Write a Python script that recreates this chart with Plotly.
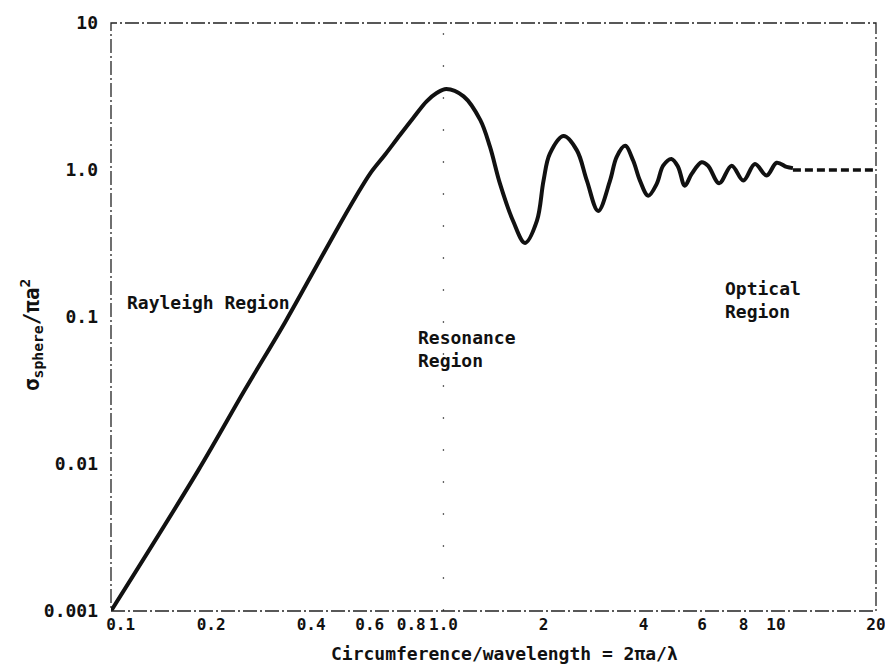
import plotly.graph_objects as go

# Normalised radar cross section of a conducting sphere vs. circumference/wavelength
circ_over_wl = [0.1, 0.183, 0.253, 0.334, 0.401, 0.488, 0.542, 0.601, 0.667, 0.740,
                0.810, 0.890, 0.954, 1.02, 1.15, 1.29, 1.38, 1.48, 1.62, 1.76,
                1.91, 2.00, 2.09, 2.30, 2.52, 2.70, 2.92, 3.17, 3.32, 3.52,
                3.72, 3.90, 4.13, 4.38, 4.58, 4.85, 5.08, 5.32, 5.58, 5.98,
                6.25, 6.75, 7.36, 7.98, 8.65, 9.38, 10.05, 10.77, 11.25]
sigma_norm = [0.001, 0.00905, 0.0321, 0.0922, 0.193, 0.427, 0.644, 0.942, 1.27, 1.73,
              2.25, 2.93, 3.34, 3.56, 3.17, 2.19, 1.44, 0.804, 0.450, 0.319,
              0.450, 0.847, 1.29, 1.70, 1.36, 0.847, 0.527, 0.847, 1.23, 1.46,
              1.16, 0.847, 0.668, 0.804, 1.07, 1.19, 1.05, 0.782, 0.942, 1.13,
              1.07, 0.813, 1.07, 0.847, 1.10, 0.917, 1.12, 1.05, 1.03]

# Optical-region asymptote
optical_x = [11.25, 20]
optical_y = [1.0, 1.0]

x_ticks = [0.1, 0.2, 0.4, 0.6, 0.8, 1.0, 2, 4, 6, 8, 10, 20]
x_tick_text = ["\u00a0\u00a00.1", "0.2", "0.4", "0.6", "0.8", "1.0",
               "2", "4", "6", "8", "10", "20"]
y_ticks = [0.001, 0.01, 0.1, 1, 10]
y_tick_text = ["0.001", "0.01", "0.1", "1.0", "10"]

FONT = "DejaVu Sans Mono"
INK = "#111111"

fig = go.Figure()

# faint region-boundary dots at circumference = wavelength
fig.add_trace(go.Scatter(x=[1.0, 1.0], y=[0.001, 10], mode="lines",
                         line=dict(color="#666666", width=1.3, dash="2px,30px"),
                         hoverinfo="skip", showlegend=False))

fig.add_trace(go.Scatter(x=circ_over_wl, y=sigma_norm, mode="lines",
                         line=dict(color=INK, width=4, shape="spline", smoothing=1.0),
                         showlegend=False))
fig.add_trace(go.Scatter(x=optical_x, y=optical_y, mode="lines",
                         line=dict(color=INK, width=3.5, dash="8px,4px"),
                         showlegend=False))

fig.update_layout(
    width=885, height=667,
    margin=dict(l=111, r=9, t=23, b=56),
    paper_bgcolor="white", plot_bgcolor="white",
    font=dict(family=FONT, size=18, color=INK),
    xaxis=dict(type="log", range=[-1, 1.3011], tickvals=x_ticks, ticktext=x_tick_text,
               tickangle=0, showgrid=False, zeroline=False, showline=False, ticks="",
               tickfont=dict(family=FONT, size=16, color=INK, weight="bold"),
               ticklabelstandoff=2, ticklabeloverflow="allow", automargin=False),
    yaxis=dict(type="log", range=[-3, 1], tickvals=y_ticks, ticktext=y_tick_text,
               showgrid=False, zeroline=False, showline=False, ticks="",
               tickfont=dict(family=FONT, size=18, color=INK, weight="bold"),
               ticklabelstandoff=12, automargin=False),
    shapes=[dict(type="rect", xref="paper", yref="paper", x0=0, x1=1, y0=0, y1=1,
                 line=dict(color="#222222", width=1.3, dash="14px,3px,2px,3px"))],
)

text_font = dict(family=FONT, size=18, color=INK, weight="bold")
fig.add_annotation(text="Rayleigh Region", xref="paper", yref="paper", x=0.018, y=0.525,
                   xanchor="left", yanchor="middle", showarrow=False, font=text_font)
fig.add_annotation(text="Resonance<br>Region", xref="paper", yref="paper", x=0.399, y=0.446,
                   xanchor="left", yanchor="middle", align="left", showarrow=False,
                   font=text_font)
fig.add_annotation(text="Optical<br>Region", xref="paper", yref="paper", x=0.8, y=0.529,
                   xanchor="left", yanchor="middle", align="left", showarrow=False,
                   font=text_font)
fig.add_annotation(text="Circumference/wavelength = 2\u03c0a/\u03bb", xref="paper", yref="paper",
                   x=0.515, y=-0.073, xanchor="center", yanchor="middle", showarrow=False,
                   font=text_font)
fig.add_annotation(text="\u03c3<sub>sphere</sub>/\u03c0a<sup>2</sup>", xref="paper", yref="paper",
                   x=-0.1046, y=0.471, xanchor="center", yanchor="middle", textangle=-90,
                   showarrow=False, font=dict(family=FONT, size=21, color=INK, weight="bold"))

fig.write_html("out.html")
